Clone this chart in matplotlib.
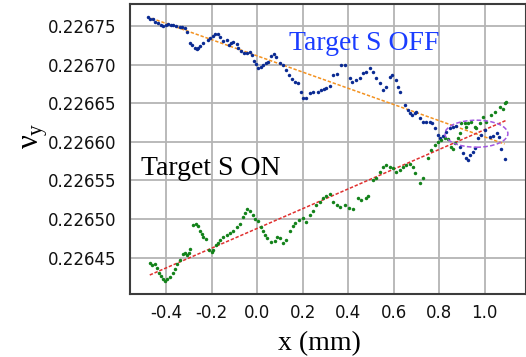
import numpy as np
import matplotlib.pyplot as plt
from matplotlib.patches import Ellipse
from matplotlib.ticker import FormatStrFormatter

# Target S OFF scan: x position (mm), nu_y offset from 0.2266 in units of 1e-5
x_off = [-0.480, -0.470, -0.461, -0.448, -0.436, -0.424, -0.414, -0.402, -0.392, -0.380,
         -0.370, -0.356, -0.341, -0.330, -0.319, -0.309, -0.294, -0.286, -0.275, -0.267,
         -0.259, -0.250, -0.237, -0.219, -0.207, -0.196, -0.187, -0.174, -0.165, -0.153,
         -0.135, -0.124, -0.114, -0.106, -0.091, -0.084, -0.073, -0.059, -0.047, -0.033,
         -0.024, -0.015, -0.007, 0.004, 0.015, 0.025, 0.037, 0.047, 0.062, 0.073,
         0.084, 0.099, 0.113, 0.128, 0.140, 0.152, 0.165, 0.179, 0.191, 0.201,
         0.216, 0.231, 0.245, 0.267, 0.282, 0.292, 0.304, 0.319, 0.333, 0.351,
         0.370, 0.385, 0.407, 0.418, 0.433, 0.451, 0.465, 0.480, 0.495, 0.509,
         0.524, 0.538, 0.553, 0.568, 0.582, 0.594, 0.609, 0.619, 0.629, 0.648,
         0.663, 0.673, 0.682, 0.692, 0.700, 0.714, 0.729, 0.744, 0.758, 0.770,
         0.780, 0.795, 0.802, 0.817, 0.832, 0.846, 0.861, 0.875, 0.890, 0.905,
         0.917, 0.927, 0.937, 0.947, 0.956, 0.971, 0.985, 1.004, 1.022, 1.036,
         1.054, 1.063, 1.073, 1.088]
v_off = [16.13, 15.97, 15.91, 15.58, 15.35, 15.13, 15.04, 15.19, 15.26, 15.19,
         15.13, 15.06, 14.91, 14.87, 14.70, 14.26, 12.84, 12.54, 12.19, 11.98,
         12.15, 12.45, 12.80, 13.23, 13.45, 13.77, 13.93, 13.90, 13.61, 13.06,
         13.19, 12.54, 12.80, 12.97, 12.63, 12.11, 11.76, 11.54, 11.46, 11.67,
         11.24, 10.47, 10.04, 9.52, 9.69, 9.95, 10.21, 10.38, 11.12, 11.37,
         10.95, 10.17, 9.95, 9.30, 8.65, 8.20, 7.79, 7.58, 6.45, 5.64,
         5.64, 6.28, 6.49, 6.41, 6.71, 6.84, 6.93, 7.23, 8.65, 8.75,
         9.95, 9.95, 8.23, 7.79, 8.01, 8.23, 8.87, 9.08, 9.52, 9.08,
         8.23, 7.58, 6.71, 7.14, 8.43, 8.65, 8.01, 7.14, 6.49, 4.77,
         4.12, 3.73, 3.47, 3.69, 3.90, 3.05, 2.61, 2.61, 2.61, 2.40,
         1.75, 0.88, 0.45, 0.75, 1.31, 1.75, 1.96, 2.05, -0.63, -1.49,
         -2.13, -2.35, -1.71, -1.32, -0.84, 0.45, 0.88, 1.53, 0.66, 0.75,
         1.10, 0.59, -0.97, -2.26]

# Target S ON scan
x_on = [-0.473, -0.465, -0.451, -0.443, -0.432, -0.422, -0.414, -0.407, -0.397, -0.385,
        -0.373, -0.363, -0.352, -0.341, -0.329, -0.319, -0.309, -0.300, -0.294, -0.282,
        -0.270, -0.260, -0.253, -0.245, -0.238, -0.226, -0.212, -0.201, -0.194, -0.182,
        -0.172, -0.162, -0.150, -0.135, -0.121, -0.106, -0.091, -0.077, -0.062, -0.055,
        -0.045, -0.033, -0.021, -0.011, 0.004, 0.018, 0.026, 0.033, 0.043, 0.062,
        0.077, 0.088, 0.099, 0.113, 0.128, 0.146, 0.156, 0.165, 0.184, 0.199,
        0.216, 0.231, 0.245, 0.260, 0.275, 0.289, 0.304, 0.319, 0.333, 0.351,
        0.366, 0.385, 0.404, 0.421, 0.443, 0.458, 0.477, 0.487, 0.509, 0.521,
        0.538, 0.553, 0.568, 0.582, 0.596, 0.612, 0.626, 0.642, 0.656, 0.670,
        0.685, 0.692, 0.714, 0.729, 0.751, 0.766, 0.780, 0.795, 0.810, 0.824,
        0.837, 0.854, 0.861, 0.868, 0.883, 0.890, 0.898, 0.912, 0.920, 0.927,
        0.942, 0.956, 0.964, 0.978, 0.993, 1.007, 1.029, 1.044, 1.066, 1.080,
        1.088, 1.095]
v_on = [-15.73, -15.95, -15.82, -16.38, -16.95, -17.38, -17.80, -17.99, -17.80, -17.54,
        -17.03, -16.51, -15.82, -15.30, -14.56, -14.44, -14.66, -14.44, -13.92, -10.77,
        -10.64, -10.90, -11.51, -11.94, -12.29, -12.62, -14.01, -14.23, -14.01, -13.36,
        -13.06, -12.71, -12.36, -12.07, -11.77, -11.51, -11.07, -10.64, -9.70, -9.18,
        -8.74, -8.92, -9.48, -10.03, -10.21, -11.09, -11.55, -12.07, -12.49, -12.93,
        -12.80, -12.32, -12.49, -13.06, -12.71, -11.51, -10.90, -10.47, -10.12, -9.90,
        -10.34, -9.48, -8.92, -8.18, -7.75, -7.31, -7.02, -6.76, -7.75, -8.18,
        -8.48, -8.18, -8.61, -8.74, -7.31, -7.53, -7.31, -7.02, -4.94, -4.72,
        -3.87, -3.22, -3.00, -3.22, -3.39, -3.87, -3.65, -3.26, -3.00, -2.87,
        -3.22, -4.08, -5.37, -4.72, -2.13, -1.06, -0.41, 0.02, 0.24, 0.45,
        0.37, -0.63, -0.97, -0.19, 0.45, 1.10, 2.40, 2.40, 1.96, 2.40,
        2.61, 1.96, 1.75, 2.40, 3.25, 2.61, 3.47, 3.90, 4.55, 4.21,
        4.99, 5.20]

# linear fit end points
fit_off_x = [-0.465, 1.088]
fit_off_y = [0.2267600, 0.2265972]
fit_on_x = [-0.473, 1.092]
fit_on_y = [0.2264275, 0.2266274]

y_off = 0.2266 + np.array(v_off) * 1e-5
y_on = 0.2266 + np.array(v_on) * 1e-5

plt.rcParams['mathtext.fontset'] = 'custom'
plt.rcParams['mathtext.rm'] = 'Liberation Serif'
plt.rcParams['mathtext.it'] = 'Liberation Serif'

fig = plt.figure(figsize=(5.26, 3.57), dpi=100)
ax = fig.add_axes([130 / 526, 63 / 357, 395.5 / 526, 290 / 357])

ax.plot(fit_off_x, fit_off_y, linestyle=(0, (2.2, 1.2)), color='#f39221', lw=1.1, zorder=2)
ax.plot(fit_on_x, fit_on_y, linestyle=(0, (2.2, 1.2)), color='#e0302f', lw=1.1, zorder=2)
ax.plot(x_off, y_off, 'o', color='#0a2a92', ms=2.5, mew=0, zorder=3)
ax.plot(x_on, y_on, 'o', color='#13821a', ms=2.5, mew=0, zorder=3)

ax.add_patch(Ellipse((0.964, 0.2266105), 0.277, 3.5e-5, fill=False,
                     edgecolor='#a257e0', linestyle=(0, (3, 1.5)), lw=1.1, zorder=4))

ax.set_xlim(-0.560, 1.180)
ax.set_ylim(0.2264029, 0.2267785)
ax.set_xticks([-0.4, -0.2, 0.0, 0.2, 0.4, 0.6, 0.8, 1.0])
ax.set_yticks([0.22645, 0.22650, 0.22655, 0.22660, 0.22665, 0.22670, 0.22675])
ax.xaxis.set_major_formatter(FormatStrFormatter('%.1f'))
ax.yaxis.set_major_formatter(FormatStrFormatter('%.5f'))
ax.tick_params(length=0, labelsize=12, colors='#111111')
ax.tick_params(axis='y', pad=10)
ax.tick_params(axis='x', pad=7)
ax.grid(True, color='#b4b4b4', lw=1.3)
ax.set_axisbelow(True)
for s in ax.spines.values():
    s.set_color('#3c3c3c')
    s.set_linewidth(1.5)

ax.text(0.138, 0.2267189, 'Target S OFF', color='#1a3cff', fontsize=20,
        family='Liberation Serif', va='baseline')
ax.text(-0.512, 0.226557, 'Target S ON', color='black', fontsize=20,
        family='Liberation Serif', va='baseline')

fig.text(319 / 526, 7 / 357, 'x (mm)', fontsize=20, family='Liberation Serif',
         ha='center', va='baseline')
fig.text(35 / 526, 1 - 136 / 357, r'$\nu_y$', fontsize=22, rotation=90,
         ha='center', va='center')

fig.savefig('out.png', dpi=100)
